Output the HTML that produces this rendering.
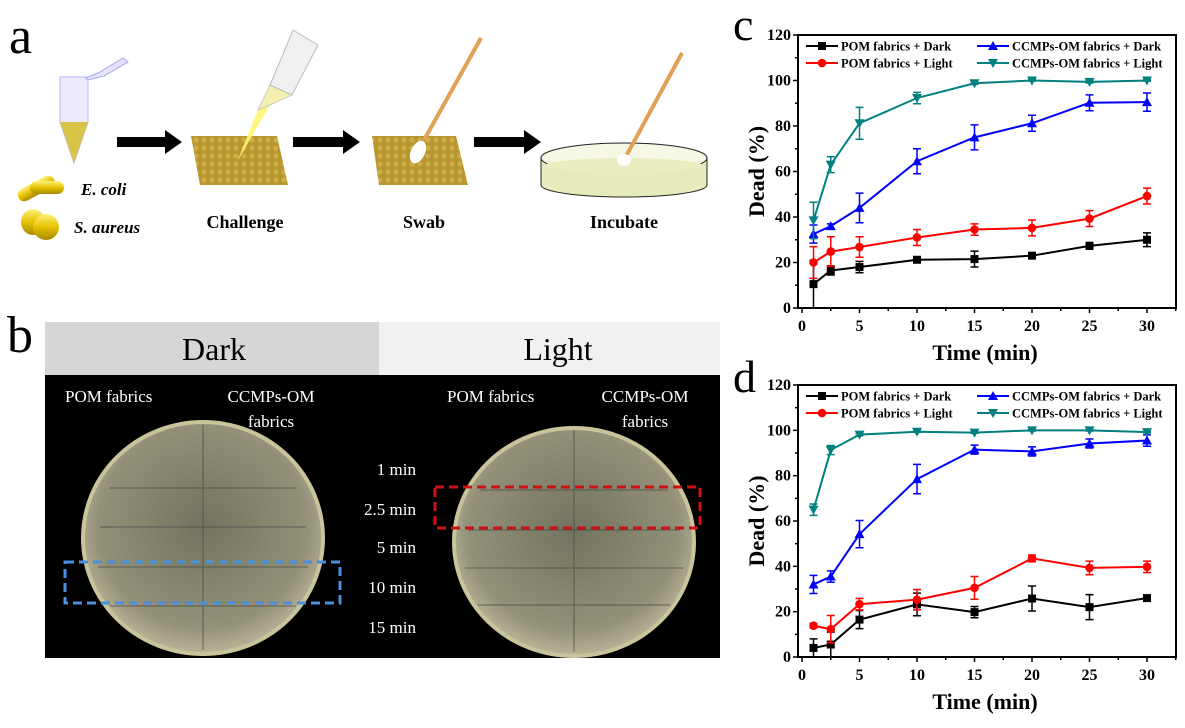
<!DOCTYPE html>
<html><head><meta charset="utf-8"><style>
html,body{margin:0;padding:0;background:#fff}
svg{display:block;font-family:"Liberation Serif",serif}
</style></head><body>
<svg width="1185" height="728" viewBox="0 0 1185 728">
<defs>
<pattern id="fab" width="8" height="8" patternUnits="userSpaceOnUse"><rect width="8" height="8" fill="#b8962e"/><circle cx="4" cy="4" r="2.6" fill="#cfae4a"/></pattern>
<radialGradient id="dish" cx="50%" cy="45%" r="55%"><stop offset="0" stop-color="#72735f"/><stop offset="0.8" stop-color="#939178"/><stop offset="1" stop-color="#b9b598"/></radialGradient>
<linearGradient id="gold" x1="0" y1="0" x2="0" y2="1"><stop offset="0" stop-color="#fff27a"/><stop offset="0.5" stop-color="#e6c200"/><stop offset="1" stop-color="#a88a00"/></linearGradient>
</defs>
<g>
<text x="9" y="53" font-size="52">a</text>
<g>
<path d="M60 77 L88 77 L88 122 L74 163 L60 122 Z" fill="#ecebfb" stroke="#b8b6ef"/>
<path d="M60 122 L88 122 L74 163 Z" fill="#d8c447"/>
<path d="M86 78 L100 72 L123 58 L128 62 L104 76 L88 80 Z" fill="#e4e3fb" stroke="#a9a6ee"/>
</g>
<g>
<rect x="16" y="182" width="40" height="13" rx="6.5" fill="url(#gold)" transform="rotate(-28 36 188)"/>
<rect x="30" y="181" width="34" height="13" rx="6.5" fill="url(#gold)"/>
<ellipse cx="33" cy="222" rx="12" ry="13" fill="url(#gold)"/>
<ellipse cx="46" cy="227" rx="13" ry="13" fill="url(#gold)"/>
</g>
<text x="81" y="195" font-size="17" font-weight="bold" font-style="italic">E. coli</text>
<text x="74" y="233" font-size="17" font-weight="bold" font-style="italic">S. aureus</text>
<g fill="#000">
<path d="M117 137 L165 137 L165 130 L182 142 L165 154 L165 147 L117 147 Z"/>
<path d="M293 137 L343 137 L343 130 L360 142 L343 154 L343 147 L293 147 Z"/>
<path d="M474 137 L524 137 L524 130 L541 142 L524 154 L524 147 L474 147 Z"/>
</g>
<path d="M191 136 L277 136 L288 185 L200 185 Z" fill="url(#fab)"/>
<path d="M237 162 L258 110 L270 105 Z" fill="#fff570" opacity="0.9"/>
<path d="M258 110 L270 85 L292 95 L270 105 Z" fill="#f3f0b0" stroke="#ccc"/>
<path d="M270 85 L293 30 L318 45 L292 95 Z" fill="#f0f0f0" stroke="#bbb"/>
<path d="M372 136 L456 136 L468 185 L379 185 Z" fill="url(#fab)"/>
<line x1="424" y1="140" x2="481" y2="38" stroke="#e0a055" stroke-width="4"/>
<ellipse cx="418" cy="152" rx="7" ry="12" transform="rotate(25 418 152)" fill="#fff"/>
<g>
<path d="M541 158 L541 185 A83 12 0 0 0 707 185 L707 158 Z" fill="#e7ebbb" stroke="#222"/>
<ellipse cx="624" cy="158" rx="83" ry="15" fill="#f6f7e4" stroke="#222"/>
<ellipse cx="624" cy="166" rx="80" ry="8" fill="#e9ecc0"/>
<line x1="624" y1="160" x2="682" y2="53" stroke="#e0a055" stroke-width="4"/>
<ellipse cx="624" cy="160" rx="7" ry="6" fill="#fff"/>
</g>
<g font-size="18" font-weight="bold" text-anchor="middle">
<text x="245" y="228">Challenge</text>
<text x="424" y="228">Swab</text>
<text x="624" y="228">Incubate</text>
</g>
</g>
<g>
<text x="7" y="352" font-size="52">b</text>
<rect x="45" y="322" width="334" height="53" fill="#d6d6d6"/>
<rect x="379" y="322" width="341" height="53" fill="#f1f1f1"/>
<text x="214" y="360" font-size="32" text-anchor="middle">Dark</text>
<text x="558" y="360" font-size="32" text-anchor="middle">Light</text>
<rect x="45" y="375" width="675" height="283" fill="#000"/>
<ellipse cx="203" cy="538" rx="120" ry="116" fill="url(#dish)" stroke="#c9c49b" stroke-width="4"/>
<ellipse cx="574" cy="542" rx="120" ry="114" fill="url(#dish)" stroke="#c9c49b" stroke-width="4"/>
<g stroke="#444" stroke-width="1" opacity="0.7">
<line x1="203" y1="425" x2="203" y2="650"/><line x1="574" y1="430" x2="574" y2="652"/>
<line x1="110" y1="488" x2="296" y2="488"/><line x1="100" y1="527" x2="306" y2="527"/><line x1="98" y1="567" x2="308" y2="567"/><line x1="110" y1="606" x2="296" y2="606"/>
<line x1="480" y1="490" x2="668" y2="490"/><line x1="468" y1="530" x2="680" y2="530"/><line x1="465" y1="568" x2="683" y2="568"/><line x1="478" y1="605" x2="670" y2="605"/>
</g>
<g fill="#fff" font-size="17">
<text x="65" y="402">POM fabrics</text>
<text x="271" y="402" text-anchor="middle">CCMPs-OM</text>
<text x="271" y="427" text-anchor="middle">fabrics</text>
<text x="447" y="402">POM fabrics</text>
<text x="645" y="402" text-anchor="middle">CCMPs-OM</text>
<text x="645" y="427" text-anchor="middle">fabrics</text>
<g text-anchor="end">
<text x="416" y="475">1 min</text><text x="416" y="515">2.5 min</text><text x="416" y="553">5 min</text><text x="416" y="593">10 min</text><text x="416" y="633">15 min</text>
</g>
</g>
<rect x="65" y="562" width="275" height="41" fill="none" stroke="#4a8fe0" stroke-width="3" stroke-dasharray="9 5"/>
<rect x="435" y="487" width="265" height="41" fill="none" stroke="#d01010" stroke-width="3" stroke-dasharray="9 5"/>
</g>
<text x="733" y="40" font-size="46">c</text>
<text x="733" y="392" font-size="46">d</text>
<g id="chartC"></g>
<g id="chartD"></g>
</svg>
<script>
const times = [1, 2.5, 5, 10, 15, 20, 25, 30];
const xTicks = [0, 5, 10, 15, 20, 25, 30];
const yTicks = [0, 20, 40, 60, 80, 100, 120];
const seriesNames = ["POM fabrics + Dark", "POM fabrics + Light", "CCMPs-OM fabrics + Dark", "CCMPs-OM fabrics + Light"];
const c_pomDark = [10.5, 16.5, 18, 21.2, 21.5, 23, 27.3, 30];
const c_pomDarkErr = [10.5, 2, 2.5, 1, 3.5, 1, 1.5, 3];
const c_pomLight = [20, 24.8, 26.8, 31, 34.5, 35.2, 39.3, 49.2];
const c_pomLightErr = [7, 6.5, 4.5, 3.5, 2.5, 3.5, 3.5, 3.5];
const c_ccDark = [32.5, 36, 44, 64.5, 75, 81.2, 90.2, 90.5];
const c_ccDarkErr = [4, 1, 6.5, 5.5, 5.5, 3.5, 3.5, 4];
const c_ccLight = [38.5, 63, 81.2, 92.3, 98.8, 100, 99.4, 100];
const c_ccLightErr = [8, 3.5, 7, 2.5, 0.5, 0.3, 0.5, 0.3];
const d_pomDark = [4, 5.5, 16.5, 23.2, 19.8, 25.8, 22, 26];
const d_pomDarkErr = [4, 5.5, 4, 5, 2.5, 5.5, 5.5, 1.2];
const d_pomLight = [13.8, 12.3, 23.3, 25.3, 30.5, 43.5, 39.3, 39.8];
const d_pomLightErr = [1, 6, 2.5, 4.5, 5, 1.5, 3, 2.5];
const d_ccDark = [32, 35.5, 54.2, 78.5, 91.5, 90.7, 94.2, 95.5];
const d_ccDarkErr = [4, 2.5, 6, 6.5, 2, 2, 2, 2.5];
const d_ccLight = [65, 91.3, 98.1, 99.4, 99, 100, 100, 99.2];
const d_ccLightErr = [2.5, 2, 0.5, 0.3, 0.3, 0.3, 0.3, 0.3];
const colors = ["#000000", "#ff0000", "#0000ff", "#008080"];
const markers = ["square", "circle", "tri", "tridown"];
const NS = "http://www.w3.org/2000/svg";
function mk(tag, attrs, parent){const e=document.createElementNS(NS,tag);for(const k in attrs)e.setAttribute(k,attrs[k]);parent.appendChild(e);return e;}
function marker(g,type,x,y,col){
  let e;
  if(type==="square") e=mk("rect",{x:x-4,y:y-4,width:8,height:8,fill:col},g);
  else if(type==="circle") e=mk("circle",{cx:x,cy:y,r:4.3,fill:col},g);
  else if(type==="tri") e=mk("path",{d:`M${x} ${y-5}L${x+5} ${y+4}L${x-5} ${y+4}Z`,fill:col},g);
  else e=mk("path",{d:`M${x} ${y+5}L${x+5} ${y-4}L${x-5} ${y-4}Z`,fill:col},g);
  return e;
}
function drawChart(id, top, bottom, series, errs){
  const g=document.getElementById(id);
  const L=798,R=1176,T=top,B=bottom;
  const sx=v=>802+(v)*(1147-802)/30;
  const sy=v=>B-(v/120)*(B-T);
  const fr=mk("rect",{x:L,y:T,width:R-L,height:B-T,fill:"none",stroke:"#000","stroke-width":2},g);
  
  
  for(let v=0;v<=32.5;v+=2.5){const x=sx(v);const major=v%5===0;mk("line",{x1:x,y1:B,x2:x,y2:B+(major?5:3),stroke:"#000","stroke-width":1.5},g);}
  for(let v=0;v<=120;v+=10){const y=sy(v);const major=v%20===0;mk("line",{x1:L,y1:y,x2:L-(major?5:3),y2:y,stroke:"#000","stroke-width":1.5},g);}
  xTicks.forEach(v=>{const t=mk("text",{x:sx(v),y:B+23,"font-size":16,"font-weight":"bold","text-anchor":"middle"},g);t.textContent=v;
    
    });
  yTicks.forEach(v=>{const t=mk("text",{x:L-7,y:sy(v)+5,"font-size":16,"font-weight":"bold","text-anchor":"end"},g);t.textContent=v;
    
    });
  const xt=mk("text",{x:985,y:B+52,"font-size":22,"font-weight":"bold","text-anchor":"middle"},g);xt.textContent="Time (min)";
  
  
  const yc=(T+B)/2;
  const yt=mk("text",{x:0,y:0,"font-size":22,"font-weight":"bold","text-anchor":"middle",transform:`translate(764 ${yc}) rotate(-90)`},g);yt.textContent="Dead (%)";
  
  
  series.forEach((vals,si)=>{
    const sg=mk("g",{},g);
    
    
    const col=colors[si];
    vals.forEach((v,i)=>{const x=sx(times[i]),e=errs[si][i];
      mk("path",{d:`M${x} ${sy(v-e)}V${sy(v+e)}M${x-4} ${sy(v-e)}H${x+4}M${x-4} ${sy(v+e)}H${x+4}`,stroke:col,"stroke-width":1.5,fill:"none"},sg);});
    const pts=vals.map((v,i)=>sx(times[i])+","+sy(v)).join(" ");
    const pl=mk("polyline",{points:pts,fill:"none",stroke:col,"stroke-width":2},sg);
    
    
    vals.forEach((v,i)=>{const m=marker(sg,markers[si],sx(times[i]),sy(v),col);
      
      });
    const col2=si>=2;const lx=col2?977:806;const ly=T+(si%2===0?11:28);
    const lg=mk("g",{},g);
    
    
    mk("line",{x1:lx,y1:ly,x2:lx+32,y2:ly,stroke:col,"stroke-width":2},lg);
    marker(lg,markers[si],lx+16,ly,col);
    const lt=mk("text",{x:lx+35,y:ly+4.5,"font-size":12.5,"font-weight":"bold"},lg);lt.textContent=seriesNames[si];
  });
}
drawChart("chartC",35,308,[c_pomDark,c_pomLight,c_ccDark,c_ccLight],[c_pomDarkErr,c_pomLightErr,c_ccDarkErr,c_ccLightErr]);
drawChart("chartD",385,657,[d_pomDark,d_pomLight,d_ccDark,d_ccLight],[d_pomDarkErr,d_pomLightErr,d_ccDarkErr,d_ccLightErr]);
</script>
</body></html>
